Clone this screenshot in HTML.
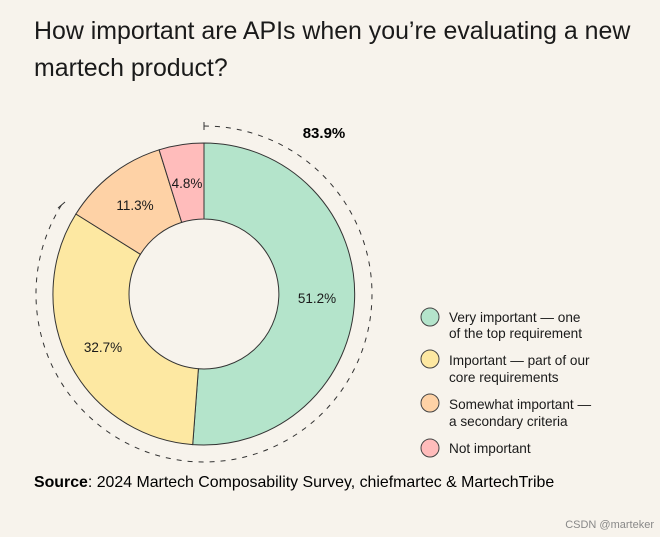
<!DOCTYPE html>
<html><head><style>
body{margin:0;background:#f7f3ec;width:660px;height:537px;overflow:hidden;font-family:"Liberation Sans",sans-serif;color:#1a1a1a}
</style></head><body>
<svg width="660" height="537" xmlns="http://www.w3.org/2000/svg" style="position:absolute;left:0;top:0">
<rect width="660" height="537" fill="#f7f3ec"/>
<text x="34" y="39" font-size="24.9" font-family="Liberation Sans" fill="#1a1a1a">How important are APIs when you’re evaluating a new</text>
<text x="34" y="76" font-size="24.9" font-family="Liberation Sans" fill="#1a1a1a">martech product?</text>
<g stroke="#333" stroke-width="1">
<path d="M204 143 A151 151 0 1 1 192.7 444.6 L198.4 368.8 A75 75 0 1 0 204 219 Z" fill="#b4e4cb"/>
<path d="M192.7 444.6 A151 151 0 0 1 75.9 214 L140.4 254.3 A75 75 0 0 0 198.4 368.8 Z" fill="#fde8a2"/>
<path d="M75.9 214 A151 151 0 0 1 159.1 149.8 L181.7 222.4 A75 75 0 0 0 140.4 254.3 Z" fill="#fed2a6"/>
<path d="M159.1 149.8 A151 151 0 0 1 204 143 L204 219 A75 75 0 0 0 181.7 222.4 Z" fill="#ffbcbb"/>
</g>
<path d="M204 126 A168 168 0 1 1 61.5 205" fill="none" stroke="#333" stroke-width="1" stroke-dasharray="5 6"/>
<line x1="204" y1="122" x2="204" y2="130" stroke="#333"/>
<line x1="58" y1="208" x2="65" y2="202" stroke="#333"/>
<g font-size="13.5" font-family="Liberation Sans" fill="#1a1a1a" text-anchor="middle">
<text x="317" y="303">51.2%</text>
<text x="103" y="352">32.7%</text>
<text x="135" y="210">11.3%</text>
<text x="187" y="188">4.8%</text>
</g>
<text x="324" y="138" font-size="15" font-weight="bold" text-anchor="middle" font-family="Liberation Sans">83.9%</text>
<g stroke="#444" stroke-width="1">
<circle cx="430" cy="317" r="9" fill="#b4e4cb"/>
<circle cx="430" cy="359" r="9" fill="#fde8a2"/>
<circle cx="430" cy="403" r="9" fill="#fed2a6"/>
<circle cx="430" cy="448" r="9" fill="#ffbcbb"/>
</g>
<g font-size="13.6" font-family="Liberation Sans" fill="#1a1a1a">
<text x="449" y="322">Very important — one</text>
<text x="449" y="338">of the top requirement</text>
<text x="449" y="365">Important — part of our</text>
<text x="449" y="382">core requirements</text>
<text x="449" y="409">Somewhat important —</text>
<text x="449" y="426">a secondary criteria</text>
<text x="449" y="453">Not important</text>
</g>
<text x="34" y="487" font-size="15.9" font-family="Liberation Sans"><tspan font-weight="bold">Source</tspan>: 2024 Martech Composability Survey, chiefmartec &amp; MartechTribe</text>
<text x="654" y="528" font-size="11" text-anchor="end" fill="#888" font-family="Liberation Sans">CSDN @marteker</text>
</svg>
</body></html>
